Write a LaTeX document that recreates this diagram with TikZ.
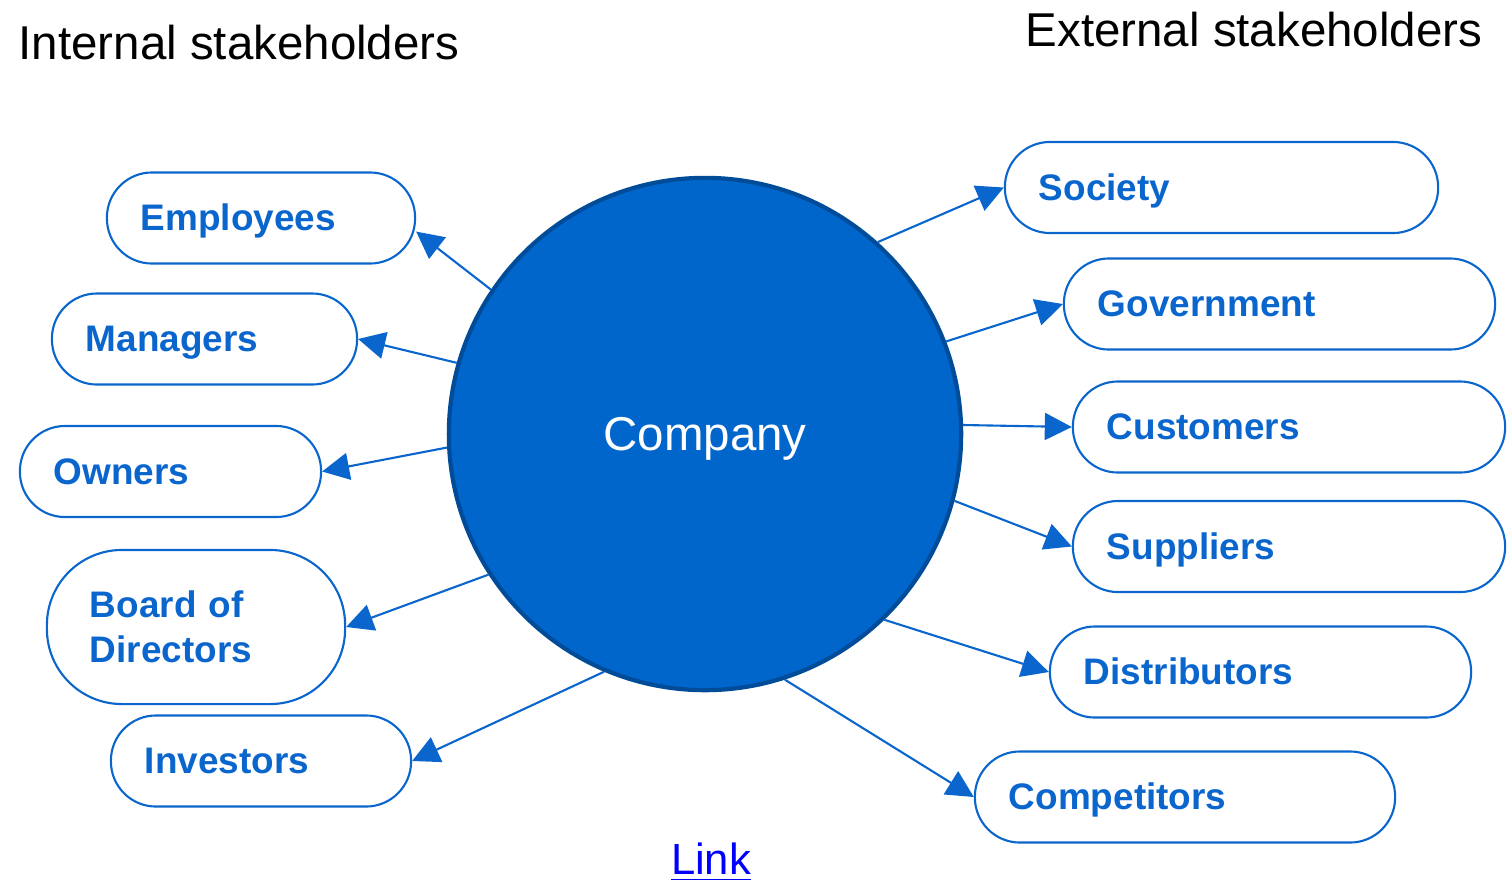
\documentclass[tikz,border=0pt]{standalone}
\usepackage{fontspec}
\setmainfont{Liberation Sans}
\usetikzlibrary{arrows.meta}

\definecolor{coblue}{HTML}{0066CC}
\definecolor{coedge}{HTML}{004C99}
\definecolor{boxblue}{HTML}{0A66CC}
\definecolor{linkblue}{HTML}{0000FF}

\tikzset{
  holder/.style={draw=boxblue, line width=0.6pt, text=boxblue, rounded corners=0.45cm,
    minimum height=0.91cm, inner xsep=0.34cm, align=left, text width=#1,
    text height=0.72em, text depth=0pt,
    font=\fontsize{10.5}{12.8}\selectfont\bfseries},
  link/.style={draw=boxblue, line width=0.6pt, -{Triangle[length=0.27cm,width=0.27cm]}}
}

\begin{document}
\begin{tikzpicture}[x=0.01cm, y=-0.01cm]
  \useasboundingbox (0,0) rectangle (1512,881);

  \node [anchor=west, inner sep=0pt, font=\fontsize{13.5}{16}\selectfont] (intl) at (18,43) {Internal stakeholders};
  \node [anchor=west, inner sep=0pt, font=\fontsize{13.5}{16}\selectfont] (extl) at (1025,30) {External stakeholders};

  \node [circle, minimum size=5.12cm, fill=coblue, draw=coedge, line width=1.2pt,
    text=white, text depth=0pt, font=\fontsize{13.5}{16}\selectfont] (co) at (705,434) {Company};

  % internal
  \node [holder=2.4cm] (emp) at (261,218) {Employees};
  \node [holder=2.37cm] (man) at (204.5,339) {Managers};
  \node [holder=2.33cm] (own) at (170.5,471.5) {Owners};
  \node [holder=2.12cm, text height=, text depth=, inner xsep=0.43cm, rounded corners=0.75cm, minimum height=1.54cm] (brd) at (196,627) {Board of\\Directors};
  \node [holder=2.32cm] (inv) at (261,761) {Investors};

  % external
  \node [holder=3.65cm] (soc) at (1221.5,187.5) {Society};
  \node [holder=3.63cm] (gov) at (1279.5,304) {Government};
  \node [holder=3.64cm] (cus) at (1289,427) {Customers};
  \node [holder=3.64cm] (sup) at (1289,546.5) {Suppliers};
  \node [holder=3.53cm] (dis) at (1260.5,672) {Distributors};
  \node [holder=3.52cm] (com) at (1185,797) {Competitors};

  \draw [link] (co.146) -- (emp.-5);
  \draw [link] (co.164) -- (man.east);
  \draw [link] (co.183) -- (own.east);
  \draw [link] (co.213) -- (brd.east);
  \draw [link] (co.247) -- (inv.east);

  \draw [link] (co.48) -- (soc.west);
  \draw [link] (co.21) -- (gov.west);
  \draw [link] (co.2) -- (cus.west);
  \draw [link] (co.-15) -- (sup.west);
  \draw [link] (co.-46) -- (dis.west);
  \draw [link] (co.-72) -- (com.west);

  \node [text=linkblue, font=\fontsize{12.4}{15}\selectfont] (lnk) at (711,862) {\underline{Link}};
\end{tikzpicture}
\end{document}
